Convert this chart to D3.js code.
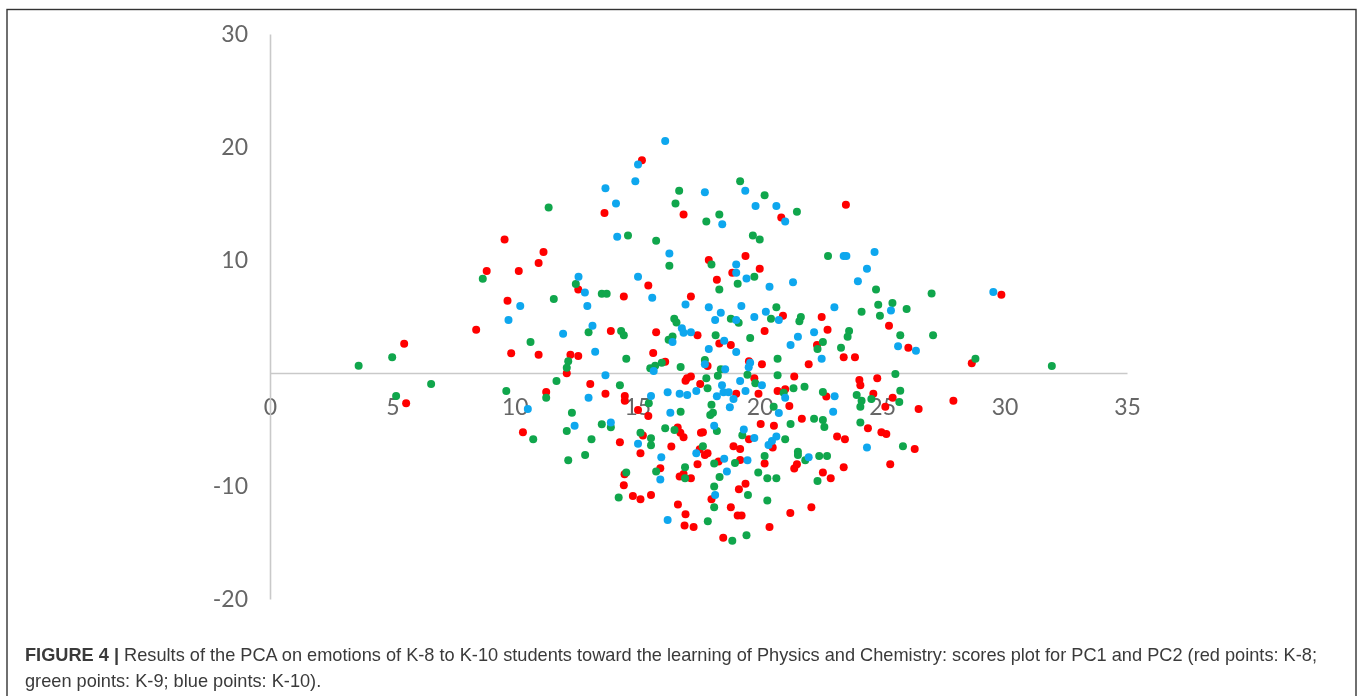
<!DOCTYPE html>
<html><head><meta charset="utf-8">
<script src="https://cdn.jsdelivr.net/npm/d3@7"></script>
<style>html,body{margin:0;padding:0;background:#fff;overflow:hidden}svg{display:block;filter:blur(.45px)}</style>
</head><body><svg id="chart" width="1358" height="696"></svg>
<script>
const xTicks=[0,5,10,15,20,25,30,35];
const yTicks=[30,20,10,-10,-20];
const k8=[[15.19,18.83],[13.66,14.15],[16.89,14.03],[9.58,11.82],[11.17,10.7],[10.97,9.73],[8.85,9.02],[10.16,9.02],[12.59,7.4],[15.45,7.75],[14.45,6.78],[17.19,6.78],[9.7,6.4],[8.42,3.83],[13.92,3.71],[15.77,3.6],[17.46,3.33],[5.48,2.59],[9.85,1.74],[10.97,1.62],[12.27,1.62],[12.59,1.5],[15.65,1.77],[16.14,1],
[23.52,14.88],[20.88,13.76],[17.92,9.99],[19.42,10.35],[20,9.23],[18.88,8.87],[18.25,8.25],[29.87,6.93],[20.95,5.07],[22.53,4.95],[22.77,3.83],[25.28,4.19],[20.2,3.71],[18.35,2.62],[18.82,2.48],[22.34,2.48],[26.07,2.24],[23.43,1.39],[23.89,1.39],[28.66,.86],[19.56,1.03],[20.09,.77],[22,.77],[17.87,.62],
[12.12,-.03],[5.56,-2.68],[11.28,-1.68],[13.08,-.97],[13.7,-1.83],[14.49,-2.03],[14.49,-2.45],[15.03,-3.27],[15.45,-3.8],[16.97,-.68],[17.19,-.32],[17.03,-.47],[17.57,-.97],[16.65,-4.83],[16.76,-5.28],[16.89,-5.69],[10.33,-5.25],[15.23,-5.54],[14.29,-6.13],[16.39,-6.51],[15.13,-7.1],[15.94,-8.43],[17.46,-8.08],[14.48,-8.96],[16.73,-9.17],[16.89,-8.93],[17.19,-9.31],[14.45,-9.93],[14.82,-10.88],[15.13,-11.17],[15.56,-10.79],[16.66,-11.64],[16.97,-12.5],[16.93,-13.5],[17.3,-13.62],[17.6,-5.28],[17.55,-6.75],
[21.41,-.32],[19.78,-.47],[24.8,-.47],[24.07,-.62],[24.11,-1.09],[20.73,-1.59],[21.04,-1.44],[19.95,-1.83],[19.04,-1.83],[22.72,-2.09],[24.64,-1.83],[25.43,-2.18],[25.13,-2.98],[21.21,-2.92],[26.49,-3.18],[27.91,-2.45],[21.72,-4.04],[20.04,-4.51],[20.58,-4.66],[24.42,-4.89],[17.68,-5.25],[24.97,-5.25],[25.17,-5.39],[23.16,-5.63],[23.48,-5.87],[19.56,-5.87],[18.93,-6.48],[19.2,-6.72],[20.53,-6.6],[26.33,-6.72],[17.87,-7.1],[17.76,-7.25],[19.2,-7.69],[18.32,-7.84],[20.2,-8],[21.52,-8.08],[21.41,-8.46],[25.33,-8.08],[23.43,-8.34],[22.58,-8.81],[22.9,-9.31],[19.42,-9.79],[19.15,-10.29],[18.03,-11.17],[18.82,-11.88],[22.11,-11.88],[21.25,-12.38],[19.1,-12.61],[19.26,-12.61],[20.4,-13.62],[18.51,-14.59]];
const k9=[[16.71,16.12],[16.56,15],[11.38,14.65],[14.62,12.17],[15.77,11.7],[16.31,9.49],[8.69,8.34],[12.49,7.87],[13.55,7.01],[13.75,7.01],[11.59,6.54],[16.51,4.8],[16.6,4.48],[13.01,3.6],[14.34,3.71],[14.45,3.33],[16.44,3.24],[16.28,2.95],[10.64,2.74],[4.99,1.39],[3.62,.65],[14.55,1.27],[12.18,1.03],[12.12,.47],[16,.91],[15.73,.65],[15.53,.41],[16.77,.53],
[19.2,16.98],[20.2,15.74],[21.52,14.27],[18.35,14.03],[17.82,13.41],[19.72,12.17],[20,11.82],[18.03,9.61],[22.79,10.35],[19.78,8.52],[19.1,7.9],[18.35,7.4],[24.75,7.4],[27.02,7.04],[24.84,6.04],[25.42,6.19],[26,5.66],[24.16,5.42],[24.91,5.07],[20.68,5.81],[18.82,4.81],[19.14,4.45],[20.46,4.81],[21.68,4.95],[21.62,4.57],[23.65,3.71],[23.59,3.21],[18.2,3.33],[19.61,3.1],[25.74,3.33],[27.08,3.33],[22.58,2.74],[22.36,2.12],[23.32,2.24],[28.81,1.27],[20.73,1.27],[17.76,1.15],[31.93,.62],[18.41,.33],
[6.58,-.97],[5.15,-2.03],[9.65,-1.59],[11.28,-2.18],[11.7,-.71],[14.29,-1.09],[12.33,-3.51],[15.47,-2.68],[16.77,-3.42],[12.12,-5.13],[13.55,-4.54],[13.92,-4.8],[10.75,-5.87],[13.13,-5.87],[15.13,-5.28],[15.56,-5.78],[15.56,-6.4],[16.14,-4.89],[16.52,-5.04],[12.18,-7.72],[12.87,-7.25],[14.55,-8.81],[15.77,-8.72],[16.95,-8.34],[16.95,-9.31],[14.24,-11.02],
[25.54,-.09],[20.73,-.21],[18.29,-.24],[17.82,-.47],[19.5,-.15],[19.82,-.91],[17.87,-1.36],[21.38,-1.36],[21.83,-1.21],[25.74,-1.56],[22.58,-1.68],[20.98,-1.74],[23.96,-1.95],[24.56,-2.3],[24.16,-2.45],[25.7,-2.56],[24.11,-2.98],[18.03,-2.8],[20.57,-2.98],[18.09,-3.51],[17.98,-3.71],[22.22,-4.04],[22.58,-4.16],[22.64,-4.77],[21.26,-4.51],[24.11,-4.39],[18.25,-5.13],[19.29,-5.51],[21.04,-5.87],[17.68,-6.48],[25.85,-6.48],[21.56,-6.96],[21.56,-7.25],[20.2,-7.34],[22.43,-7.34],[22.75,-7.34],[21.86,-7.72],[18.14,-8],[18.99,-7.96],[19.94,-8.81],[18.36,-9.2],[20.31,-9.31],[20.68,-9.31],[22.36,-9.55],[18.14,-10.05],[19.52,-10.79],[20.31,-11.29],[18.14,-11.88],[17.88,-13.12],[19.46,-14.35],[18.88,-14.85]];
const k10=[[16.14,20.54],[15.03,18.45],[14.92,16.98],[13.7,16.36],[14.13,15],[14.18,12.05],[16.31,10.58],[12.6,8.52],[15.03,8.52],[12.86,7.13],[15.61,6.66],[12.96,5.92],[10.22,5.92],[16.97,6.07],[9.74,4.69],[13.17,4.19],[11.97,3.48],[16.82,3.95],[16.89,3.57],[17.19,3.6],[16.44,2.74],[13.28,1.89],[15.67,.18],
[17.76,16],[19.41,16.12],[19.83,14.77],[20.68,14.77],[21.04,13.41],[18.47,13.17],[24.69,10.7],[23.43,10.35],[23.54,10.35],[24.38,9.23],[24.01,8.13],[19.04,9.61],[19.04,8.87],[19.46,8.37],[20.4,7.63],[21.36,8.02],[29.54,7.16],[17.92,5.81],[18.41,5.34],[18.18,4.69],[19.25,5.92],[19.04,4.69],[19.78,4.95],[20.25,5.42],[20.78,4.69],[23.05,5.81],[25.36,5.54],[18.55,2.86],[17.92,2.12],[19.04,1.86],[21.26,2.48],[21.56,3.21],[22.22,3.6],[25.65,2.36],[26.38,1.97],[22.53,1.27],[19.61,.91],[19.55,.5],[17.76,.77],[18.59,.33],
[13.7,-.21],[10.53,-3.18],[13.01,-2.18],[15.56,-2.03],[16.24,-1.71],[16.73,-1.83],[17.04,-1.95],[17.41,-1.59],[16.35,-3.51],[12.44,-4.66],[13.92,-4.39],[15.03,-6.25],[15.98,-7.46],[17.41,-7.1],[15.94,-9.43],[16.24,-13],
[18.46,-1.09],[19.2,-.71],[20.09,-1.09],[18.52,-1.71],[18.73,-1.71],[19.42,-1.59],[18.25,-2.06],[18.93,-2.3],[21.04,-2.18],[23.06,-2.06],[18.78,-3.04],[20.78,-3.54],[23,-3.42],[18.14,-4.66],[19.35,-5.01],[19.78,-5.75],[20.68,-5.63],[20.5,-6.01],[20.36,-6.37],[24.38,-6.6],[18.55,-7.58],[19.5,-7.72],[22,-7.46],[18.66,-8.72],[18.18,-10.79]];
const seriesList=[{name:"K-8",color:"#ff0000",pts:k8},{name:"K-9",color:"#10a64c",pts:k9},{name:"K-10",color:"#0ea7ee",pts:k10}];
const captionBold="FIGURE 4 |";
const captionLines=[" Results of the PCA on emotions of K-8 to K-10 students toward the learning of Physics and Chemistry: scores plot for PC1 and PC2 (red points: K-8;","green points: K-9; blue points: K-10)."];

const svg=d3.select("#chart");
const x=d3.scaleLinear().domain([0,35]).range([270,1127]);
const y=d3.scaleLinear().domain([-20,30]).range([599,34]);
svg.append("rect").attr("x",7).attr("y",9.5).attr("width",1349).attr("height",700).attr("fill","none").attr("stroke","#333").attr("stroke-width",1.4);

const axX=svg.append("g").attr("transform",`translate(0,${y(0)})`).call(d3.axisBottom(x).tickValues(xTicks).tickSize(0).tickPadding(26).tickFormat(d3.format("d")));
const axY=svg.append("g").attr("transform",`translate(${x(0)},0)`).call(d3.axisLeft(y).tickValues(yTicks).tickSize(0).tickPadding(22).tickFormat(d=>d3.format("d")(d).replace("−","-")));
[axX,axY].forEach(g=>{g.select(".domain").attr("stroke","#c9c9c9").attr("stroke-width",1.6);
 g.selectAll("text").attr("font-family","Lato").attr("font-size",23).attr("fill","#666")});

seriesList.forEach(s=>{
 svg.append("g").attr("class",s.name).selectAll("circle").data(s.pts).join("circle")
  .attr("cx",d=>x(d[0])).attr("cy",d=>y(d[1])).attr("r",4).attr("fill",s.color);
});

const cap=svg.append("g").attr("font-family","Liberation Sans").attr("font-size",18.2).attr("fill","#3a3a3a");
const t1=cap.append("text").attr("x",25).attr("y",661).attr("xml:space","preserve");
t1.append("tspan").attr("font-weight","bold").text(captionBold);
t1.append("tspan").text(captionLines[0]);
cap.append("text").attr("x",25).attr("y",687).text(captionLines[1]);
</script></body></html>
